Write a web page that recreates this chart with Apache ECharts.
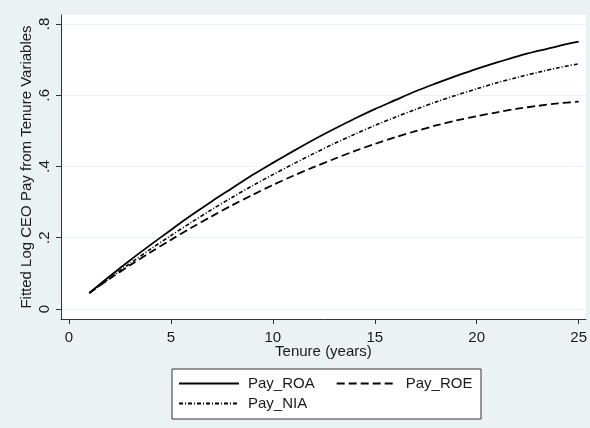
<!DOCTYPE html>
<html><head><meta charset="utf-8">
<script src="https://cdn.jsdelivr.net/npm/echarts@6/dist/echarts.min.js"></script>
<style>html,body{margin:0;padding:0;background:#eaf2f3}#c{width:590px;height:428px}</style>
</head><body><div id="c"></div>
<script>
const tenure = [1,2,3,4,5,6,7,8,9,10,11,12,13,14,15,16,17,18,19,20,21,22,23,24,25];
const payROA = [0.045,0.092,0.137,0.180,0.222,0.263,0.302,0.339,0.376,0.410,0.443,0.475,0.505,0.534,0.561,0.586,0.611,0.633,0.654,0.674,0.692,0.709,0.724,0.738,0.750];
const payROE = [0.045,0.085,0.123,0.159,0.194,0.228,0.260,0.291,0.320,0.348,0.374,0.398,0.421,0.443,0.463,0.482,0.499,0.515,0.529,0.541,0.552,0.562,0.570,0.577,0.582];
const payNIA = [0.045,0.087,0.128,0.168,0.206,0.243,0.279,0.313,0.346,0.377,0.407,0.436,0.464,0.490,0.515,0.538,0.560,0.581,0.600,0.618,0.635,0.650,0.664,0.677,0.688];
const xTicks = [0,5,10,15,20,25];
const yTicks = [0,0.2,0.4,0.6,0.8];
const yTickLabels = ['0','.2','.4','.6','.8'];

const FONT = "'Liberation Sans', Arial, sans-serif";
const TXT = '#1a1a1a';
const chart = echarts.init(document.getElementById('c'), null, {renderer:'canvas'});
const pts = arr => tenure.map((t,i)=>[t, arr[i]]);
const legendCommon = {padding:0,itemWidth:60,itemHeight:14,
  itemStyle:{opacity:0,borderWidth:0},
  textStyle:{fontSize:15,color:TXT,fontFamily:FONT,padding:[0,0,0,4]},z:5};
chart.setOption({
  animation:false,
  backgroundColor:'#eaf2f3',
  grid:{left:61,right:0,top:15,bottom:109,show:true,backgroundColor:'#ffffff',borderWidth:0},
  xAxis:{
    type:'value',min:-0.39,max:25.355,
    axisLine:{show:true,onZero:false,lineStyle:{color:'#333',width:1}},
    axisTick:{show:true,customValues:xTicks,length:5,lineStyle:{color:'#333'}},
    axisLabel:{customValues:xTicks,margin:11,fontSize:15,color:TXT,fontFamily:FONT},
    splitLine:{show:false},
    name:'Tenure (years)',nameLocation:'middle',nameGap:25,nameMoveOverlap:false,
    nameTextStyle:{fontSize:15,color:TXT,fontFamily:FONT}
  },
  yAxis:{
    type:'value',min:-0.028,max:0.825,
    axisLine:{show:true,onZero:false,lineStyle:{color:'#333',width:1}},
    axisTick:{show:true,customValues:yTicks,length:5,lineStyle:{color:'#333'}},
    axisLabel:{customValues:yTicks,rotate:90,margin:9,fontSize:15,color:TXT,fontFamily:FONT,
      formatter:v=>{const i=yTicks.findIndex(t=>Math.abs(t-v)<1e-9);return i>=0?yTickLabels[i]:String(v);}},
    splitLine:{show:true,lineStyle:{color:'#eaf2f3',width:1}},
    name:'Fitted Log CEO Pay from Tenure Variables',nameLocation:'middle',nameGap:27,nameMoveOverlap:false,
    nameTextStyle:{fontSize:15,color:TXT,fontFamily:FONT}
  },
  graphic:[{type:'rect',shape:{x:172,y:369,width:309,height:50},style:{fill:'#fff',stroke:'#333',lineWidth:1},z:0}],
  legend:[
    Object.assign({data:['Pay_ROA','Pay_ROE'],left:178,top:376,itemGap:21},legendCommon),
    Object.assign({data:['Pay_NIA'],left:178,top:396},legendCommon)
  ],
  series:[
    {name:'Pay_ROA',type:'line',data:pts(payROA),symbol:'none',showSymbol:false,smooth:0.3,
     lineStyle:{color:'#000',width:1.8,type:'solid'},itemStyle:{color:'#000'}},
    {name:'Pay_ROE',type:'line',data:pts(payROE),symbol:'none',showSymbol:false,smooth:0.3,
     lineStyle:{color:'#000',width:1.8,type:[8,4]},itemStyle:{color:'#000'}},
    {name:'Pay_NIA',type:'line',data:pts(payNIA),symbol:'none',showSymbol:false,smooth:0.3,
     lineStyle:{color:'#000',width:1.6,type:[4,2,1,2]},itemStyle:{color:'#000'}}
  ]
});
</script></body></html>
